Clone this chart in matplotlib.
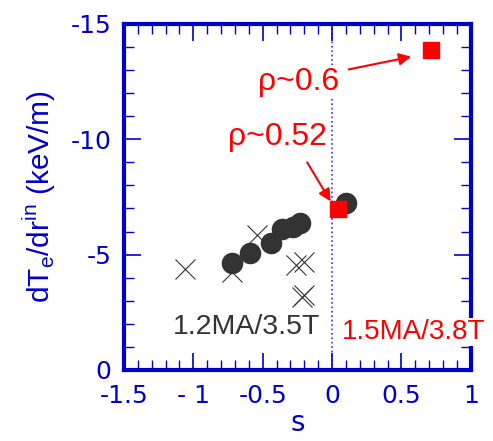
import matplotlib
matplotlib.use("Agg")
import matplotlib.pyplot as plt
from matplotlib.ticker import MultipleLocator

plt.rcParams['font.family'] = ['Liberation Sans', 'DejaVu Sans']
plt.rcParams['mathtext.fontset'] = 'custom'
plt.rcParams['mathtext.rm'] = 'Liberation Sans'

# 1.2MA/3.5T, filled circles
s_circ = [-0.72, -0.59, -0.44, -0.36, -0.28, -0.23, 0.10]
g_circ = [-4.65, -5.08, -5.49, -6.10, -6.21, -6.36, -7.25]
# 1.2MA/3.5T, crosses
s_cross = [-1.06, -0.72, -0.54, -0.26, -0.205, -0.216, -0.20]
g_cross = [-4.36, -4.26, -5.85, -4.55, -4.69, -3.18, -3.25]
# 1.5MA/3.8T, red squares
s_sq = [0.04, 0.71]
g_sq = [-6.97, -13.87]

blue = '#0000cc'

fig = plt.figure(figsize=(4.93, 4.41), dpi=100)
ax = fig.add_axes([0.2515, 0.161, 0.7035, 0.785])

ax.axvline(0, color='#3333ff', ls=':', lw=1.2, zorder=1)

ax.plot(s_cross, g_cross, 'x', ms=14, mew=0.8, color='#333333', zorder=2)
ax.plot(s_circ, g_circ, 'o', ms=14.5, color='#333333', zorder=3)
ax.plot(s_sq, g_sq, 's', ms=12, color='red', zorder=4)

ax.set_xlim(-1.5, 1)
ax.set_ylim(0, -15)

ax.xaxis.set_minor_locator(MultipleLocator(0.1))
ax.yaxis.set_minor_locator(MultipleLocator(1))
ax.set_xticks([-1.5, -1, -0.5, 0, 0.5, 1])
ax.set_xticklabels(['-1.5', '- 1', '-0.5', '0', '0.5', '1'], family='DejaVu Sans')
ax.set_yticks([0, -5, -10, -15])
ax.set_yticklabels(['0', '-5', '-10', '-15'], family='DejaVu Sans')

ax.tick_params(which='both', direction='in', top=True, right=True,
               colors=blue, labelsize=18)
ax.tick_params(axis='x', pad=10)
ax.tick_params(axis='y', pad=9)
ax.tick_params(which='major', length=12, width=1.2)
ax.tick_params(which='minor', length=7, width=1.0)
for sp in ax.spines.values():
    sp.set_color(blue)
    sp.set_linewidth(3)

ax.set_xlabel('s', color=blue, fontsize=20, labelpad=1, family='DejaVu Sans')
ax.set_ylabel(r'dT$_\mathrm{e}$/dr$^\mathrm{in}$ (keV/m)', color=blue, fontsize=21.5, labelpad=9)

ax.text(-0.24, -12.5, r'ρ~0.6', color='red', fontsize=23, ha='center', va='center',
        bbox=dict(facecolor='white', edgecolor='none', pad=1), zorder=5)
ax.annotate('', xy=(0.59, -13.6), xytext=(0.1, -13.0),
            arrowprops=dict(arrowstyle='-|>', color='red', lw=1.5, mutation_scale=18))
ax.text(-0.39, -10.1, r'ρ~0.52', color='red', fontsize=23, ha='center', va='center', zorder=5)
ax.annotate('', xy=(0.0, -7.2), xytext=(-0.19, -9.1),
            arrowprops=dict(arrowstyle='-|>', color='red', lw=1.5, mutation_scale=18))

ax.text(-0.62, -1.85, '1.2MA/3.5T', color='#333333', fontsize=20.5, ha='center', va='center')
ax.text(0.59, -1.65, '1.5MA/3.8T', color='red', fontsize=20, ha='center', va='center',
        bbox=dict(facecolor='white', edgecolor='none', pad=1), zorder=10, clip_on=False)

fig.savefig('out.png', dpi=100)
